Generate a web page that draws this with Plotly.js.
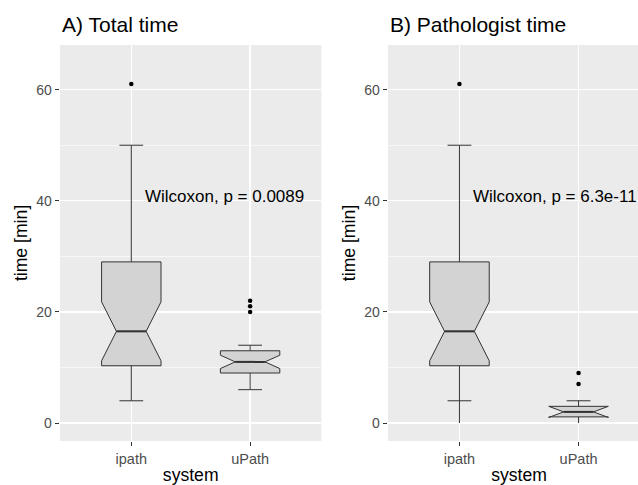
<!DOCTYPE html>
<html>
<head>
<meta charset="utf-8">
<script src="https://cdn.plot.ly/plotly-3.0.1.min.js"></script>
<style>
html, body { margin: 0; padding: 0; overflow: hidden; background: #fff; }
#chart { width: 650px; height: 485px; }
</style>
</head>
<body>
<div id="chart"></div>
<script>
// ---- data ----
const categories = ['ipath', 'uPath'];
const catPos = [1, 2];

// Panel A: Total time
const totalQ1 = [10.3, 9.0];
const totalMedian = [16.5, 11.0];
const totalQ3 = [29.0, 13.0];
const totalLowerWhisker = [4, 6];
const totalUpperWhisker = [50, 14];
const totalNotchSpan = [5.3, 1.2];
const totalCapLow = [4, 6];
const totalCapHigh = [50, 14];
const totalOutliersX = ['ipath', 'uPath', 'uPath', 'uPath'];
const totalOutliersY = [61, 20, 21, 22];

// Panel B: Pathologist time
const pathQ1 = [10.3, 1.1];
const pathMedian = [16.5, 2.0];
const pathQ3 = [29.0, 3.0];
const pathLowerWhisker = [0, 0];
const pathUpperWhisker = [50, 4];
const pathNotchSpan = [5.3, 1.0];
const pathCapLow = [4, null];
const pathCapHigh = [50, 4];
const pathOutliersX = ['ipath', 'uPath', 'uPath'];
const pathOutliersY = [61, 7, 9];

const panelTitles = ['A) Total time', 'B) Pathologist time'];
const pLabels = ['Wilcoxon, p = 0.0089', 'Wilcoxon, p = 6.3e-11'];
const pLabelPos = [1.1, 40.7];
const yTicks = [0, 20, 40, 60];

// ---- styling ----
const FONT = 'Liberation Sans, Arial, Helvetica, sans-serif';
const LINE = '#333333';
const FILL = '#D3D3D3';
const BOXW = 0.5;
const CAPW = 0.2;
const PLOTLY_NOTCHW = 0.25;   // waist = half the box width
const MEDIAN_HALF = BOXW / 4;

function posOf(c) { return catPos[categories.indexOf(c)]; }

function capTrace(vals, xa, ya) {
  const xs = [], ys = [];
  vals.forEach((v, i) => {
    if (v === null) return;
    xs.push(catPos[i] - CAPW / 2, catPos[i] + CAPW / 2, null);
    ys.push(v, v, null);
  });
  return { type: 'scatter', mode: 'lines', x: xs, y: ys, xaxis: xa, yaxis: ya,
    line: { color: LINE, width: 1 }, hoverinfo: 'skip', showlegend: false };
}
function medianTrace(vals, xa, ya) {
  const xs = [], ys = [];
  vals.forEach((v, i) => {
    xs.push(catPos[i] - MEDIAN_HALF, catPos[i] + MEDIAN_HALF, null);
    ys.push(v, v, null);
  });
  return { type: 'scatter', mode: 'lines', x: xs, y: ys, xaxis: xa, yaxis: ya,
    line: { color: LINE, width: 2 }, hoverinfo: 'skip', showlegend: false };
}
function boxTrace(q1, med, q3, lf, uf, ns, xa, ya) {
  return { type: 'box', x: catPos, q1: q1, median: med, q3: q3,
    lowerfence: lf, upperfence: uf, notchspan: ns, notched: true,
    notchwidth: PLOTLY_NOTCHW, whiskerwidth: 0, width: BOXW, boxpoints: false,
    fillcolor: FILL, line: { color: LINE, width: 1 },
    xaxis: xa, yaxis: ya, showlegend: false };
}
function outlierTrace(xc, yv, xa, ya) {
  return { type: 'scatter', mode: 'markers', x: xc.map(posOf), y: yv,
    xaxis: xa, yaxis: ya, marker: { color: '#000', size: 4.5 },
    showlegend: false };
}

const data = [
  boxTrace(totalQ1, totalMedian, totalQ3, totalLowerWhisker, totalUpperWhisker, totalNotchSpan, 'x', 'y'),
  capTrace(totalCapLow, 'x', 'y'), capTrace(totalCapHigh, 'x', 'y'),
  medianTrace(totalMedian, 'x', 'y'),
  outlierTrace(totalOutliersX, totalOutliersY, 'x', 'y'),
  boxTrace(pathQ1, pathMedian, pathQ3, pathLowerWhisker, pathUpperWhisker, pathNotchSpan, 'x2', 'y2'),
  capTrace(pathCapLow, 'x2', 'y2'), capTrace(pathCapHigh, 'x2', 'y2'),
  medianTrace(pathMedian, 'x2', 'y2'),
  outlierTrace(pathOutliersX, pathOutliersY, 'x2', 'y2')
];

function xAxis(domain) {
  return { domain: domain, range: [0.4, 2.6], tickvals: catPos, ticktext: categories,
    showgrid: true, gridcolor: '#FFFFFF', gridwidth: 1.3, zeroline: false,
    ticks: 'outside', ticklen: 4.4, tickwidth: 1, tickcolor: LINE,
    tickfont: { family: FONT, size: 14.5, color: '#4D4D4D' },
    title: { text: 'system', font: { family: FONT, size: 17.6, color: '#000' }, standoff: 4 },
    fixedrange: true, automargin: false };
}
function yAxis(anchor) {
  return { domain: [0, 1], range: [-3.24, 68.04], anchor: anchor, tickvals: yTicks,
    showgrid: true, gridcolor: '#FFFFFF', gridwidth: 1.3, zeroline: false,
    minor: { tick0: 0, dtick: 10, showgrid: true, gridcolor: '#FFFFFF', gridwidth: 0.6, ticks: '' },
    ticks: 'outside', ticklen: 4.4, tickwidth: 1, tickcolor: LINE,
    tickfont: { family: FONT, size: 14, color: '#4D4D4D' },
    title: { text: 'time [min]', font: { family: FONT, size: 17.6, color: '#000' }, standoff: 4 },
    fixedrange: true, automargin: false };
}

const domA = [0, 261.4 / 590];
const domB = [328 / 590, 1];

const annotations = [];
[domA, domB].forEach((d, i) => {
  annotations.push({ text: panelTitles[i], xref: 'paper', yref: 'paper', x: d[0], y: 1.052,
    xanchor: 'left', yanchor: 'middle', showarrow: false,
    font: { family: FONT, size: 21, color: '#000' } });
});
['', '2'].forEach((s, i) => {
  annotations.push({ text: pLabels[i], xref: 'x' + s, yref: 'y' + s, x: pLabelPos[0], y: pLabelPos[1],
    xanchor: 'left', yanchor: 'middle', showarrow: false,
    font: { family: FONT, size: 17, color: '#000' } });
});

const layout = {
  width: 650, height: 485,
  margin: { l: 60, r: 0, t: 45, b: 44 },
  paper_bgcolor: '#FFFFFF', plot_bgcolor: '#EBEBEB',
  showlegend: false,
  xaxis: xAxis(domA), yaxis: yAxis('x'),
  xaxis2: xAxis(domB), yaxis2: yAxis('x2'),
  annotations: annotations
};

Plotly.newPlot('chart', data, layout, { displayModeBar: false, staticPlot: true });
</script>
</body>
</html>
